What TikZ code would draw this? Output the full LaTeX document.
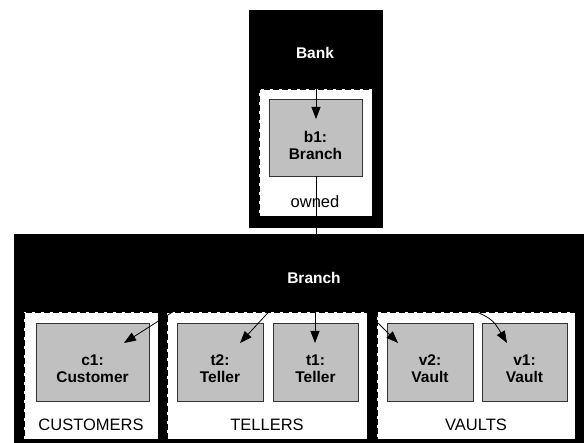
\documentclass[tikz,border=0pt]{standalone}
\usepackage{fontspec}
\setmainfont{Liberation Sans}
\usetikzlibrary{fit,arrows.meta}
\definecolor{objgray}{RGB}{192,192,192}
\tikzset{
  blk/.style={draw=black, fill=black, inner sep=0pt, line width=0.6pt},
  grp/.style={draw=black, fill=white, dash pattern=on 6pt off 3pt, line width=0.8pt, inner sep=0pt},
  obj/.style={draw=black!80, fill=objgray, line width=0.8pt, inner sep=0pt},
  otext/.style={font=\bfseries\fontsize{15.5}{17}\selectfont, align=center, text=black, inner sep=0pt},
  htext/.style={font=\bfseries\fontsize{15.5}{17}\selectfont, text=white, inner sep=0pt},
  gtext/.style={font=\fontsize{16.5}{19}\selectfont, inner sep=0pt},
  link/.style={line width=0.8pt, -{Triangle[length=12pt,width=9pt]}},
  plain/.style={line width=0.8pt},
}
\begin{document}
\begin{tikzpicture}[x=1pt,y=-1pt]
\useasboundingbox (0,0) rectangle (584,443);
% Bank
\node[blk, fit={(249,10) (382,227)}] (bank) {};
\node[htext] (banklbl) at (315,53) {Bank};
\node[grp, fit={(259,89) (372,216)}] (owned) {};
\node[obj, fit={(269,99) (362,176)}] (b1) {};
\node[otext] (b1lbl) at (315.5,145) {b1:\\Branch};
\node[gtext] (ownedlbl) at (315,202) {owned};
\coordinate (b1in) at (316,119);
\draw[link] (banklbl.south -| b1in) -- (b1in);
% Branch
\node[blk, fit={(14,234) (584,443)}] (branch) {};
\draw[plain] (b1.south -| b1in) -- (b1in |- branch.north);
\node[htext] (branchlbl) at (314,278) {Branch};
\node[grp, fit={(24,312) (158,439)}] (cust) {};
\node[grp, fit={(167,312) (367,439)}] (tell) {};
\node[grp, fit={(377,312) (575,439)}] (vaul) {};
\node[obj, fit={(36,323) (149,401)}] (c1) {};
\node[obj, fit={(177,323) (263,401)}] (t2) {};
\node[obj, fit={(273,323) (358,401)}] (t1) {};
\node[obj, fit={(387,323) (473,401)}] (v2) {};
\node[obj, fit={(482,323) (567,401)}] (v1) {};
\node[otext] (c1lbl) at (92.5,369) {c1:\\Customer};
\node[otext] (t2lbl) at (220,369) {t2:\\Teller};
\node[otext] (t1lbl) at (315.5,369) {t1:\\Teller};
\node[otext] (v2lbl) at (430,369) {v2:\\Vault};
\node[otext] (v1lbl) at (524.5,369) {v1:\\Vault};
\node[gtext] (custlbl) at (91,425) {CUSTOMERS};
\node[gtext] (telllbl) at (267,425) {TELLERS};
\node[gtext] (vaullbl) at (476,425) {VAULTS};
% connectors from Branch
\coordinate (sc1) at (207,290);
\coordinate (st2) at (289,290);
\coordinate (st1) at (315,290);
\coordinate (sv2) at (335,295);
\coordinate (sv1) at (455,303);
\coordinate (ec1) at (124,343);
\coordinate (et2) at (240,343);
\coordinate (et1) at (315,343);
\coordinate (ev2) at (398,343);
\coordinate (ev1) at (507,343);
\draw[link] (sc1) -- (ec1);
\draw[link] (st2) -- (et2);
\draw[link] (st1) -- (et1);
\draw[link] (sv2) .. controls (363,308) .. (ev2);
\draw[link] (sv1) .. controls (492,318) .. (ev1);
\end{tikzpicture}
\end{document}
